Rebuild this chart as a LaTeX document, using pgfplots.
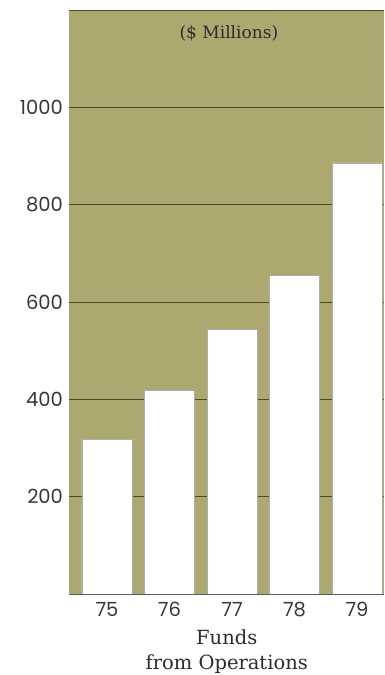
\documentclass[border=0pt]{standalone}
\usepackage{fontspec}
\usepackage{pgfplots}
\pgfplotsset{compat=1.18}
\newfontfamily\tickfont{Poppins}
\newfontfamily\serifface{DejaVu Serif}
\definecolor{khaki}{RGB}{172,168,112}
\definecolor{gridolive}{RGB}{78,74,40}
\definecolor{inkgray}{RGB}{55,55,55}
\begin{document}
\begin{tikzpicture}
\useasboundingbox (-69.5pt,-81pt) rectangle (314.5pt,594pt);
\begin{axis}[
  scale only axis,
  width=314.5pt, height=584pt,
  xmin=-0.6, xmax=4.432,
  ymin=0, ymax=1200,
  axis background/.style={fill=khaki},
  axis line style={draw=none},
  xtick={0,1,2,3,4},
  xticklabels={75,76,77,78,79},
  ytick={200,400,600,800,1000},
  major tick length=0pt,
  ymajorgrids,
  grid style={gridolive, line width=0.9pt},
  ticklabel style={font=\tickfont\fontsize{19.5}{22}\selectfont, text=inkgray},
  yticklabel style={xshift=-3pt, /pgf/number format/1000 sep={}},
  xticklabel style={yshift=-5pt},
  xlabel={Funds\\from Operations},
  xlabel style={font=\serifface\fontsize{19.5}{25}\selectfont, text=inkgray!80!black, align=center, yshift=-6pt},
  /pgf/number format/assume math mode=true,
]
\addplot[ybar, bar width=50pt, fill=white, draw=gray!65, line width=0.6pt]
  coordinates {(0,317) (1,418) (2,543) (3,655) (4,886)};
\draw[gridolive, line width=0.8pt] (rel axis cs:0,1) -- (rel axis cs:1,1);
\draw[gray!70!black, line width=0.5pt] (rel axis cs:0,0) -- (rel axis cs:1,0);
\node[font=\serifface\fontsize{17}{20}\selectfont, text=inkgray!80!black] at (axis cs:1.95,1153) {(\$ Millions)};
\end{axis}
\end{tikzpicture}
\end{document}
